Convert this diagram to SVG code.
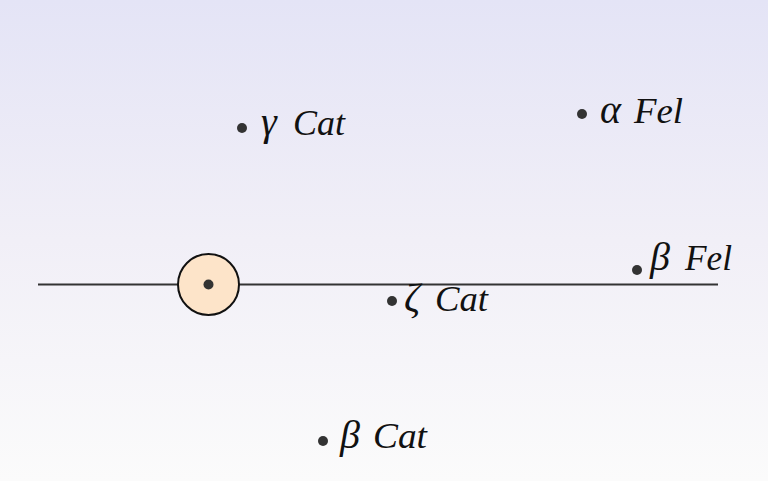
<svg xmlns="http://www.w3.org/2000/svg" width="768" height="481" viewBox="0 0 768 481">
<defs>
<linearGradient id="bg" x1="0" y1="0" x2="0" y2="1">
<stop offset="0" stop-color="#e4e4f6"/>
<stop offset="0.5" stop-color="#f1eff7"/>
<stop offset="1" stop-color="#fbfbfb"/>
</linearGradient>
<style>
.lbl{font-family:"Liberation Serif","DejaVu Serif",serif;font-style:italic;font-size:36px;fill:#111;}
.gr{font-size:40px;}
.dot{fill:#333;}
</style>
</defs>
<rect x="0" y="0" width="768" height="481" fill="url(#bg)"/>
<g id="connectors">
<line x1="38" y1="284.5" x2="718" y2="284.5" stroke="#333" stroke-width="2"/>
</g>
<g id="observer">
<circle cx="208.5" cy="284.5" r="30.5" fill="#fde4c9" stroke="#111" stroke-width="2"/>
<circle cx="208.5" cy="284.5" r="5" class="dot"/>
</g>
<g id="gamma-cat">
<circle cx="242" cy="128" r="5" class="dot"/>
<text class="lbl gr" x="261" y="135">γ</text>
<text class="lbl" x="293" y="135" textLength="52" lengthAdjust="spacingAndGlyphs">Cat</text>
</g>
<g id="alpha-fel">
<circle cx="582" cy="114" r="5" class="dot"/>
<text class="lbl gr" x="600" y="123">α</text>
<text class="lbl" x="634" y="123" textLength="49" lengthAdjust="spacingAndGlyphs">Fel</text>
</g>
<g id="beta-fel">
<circle cx="637" cy="270" r="5" class="dot"/>
<text class="lbl gr" x="650" y="270">β</text>
<text class="lbl" x="685" y="270" textLength="47" lengthAdjust="spacingAndGlyphs">Fel</text>
</g>
<g id="zeta-cat">
<circle cx="392" cy="301" r="5" class="dot"/>
<text class="lbl gr" x="404" y="311">ζ</text>
<text class="lbl" x="435" y="311" textLength="53" lengthAdjust="spacingAndGlyphs">Cat</text>
</g>
<g id="beta-cat">
<circle cx="323" cy="441" r="5" class="dot"/>
<text class="lbl gr" x="340" y="448">β</text>
<text class="lbl" x="373" y="448" textLength="54" lengthAdjust="spacingAndGlyphs">Cat</text>
</g>
</svg>
